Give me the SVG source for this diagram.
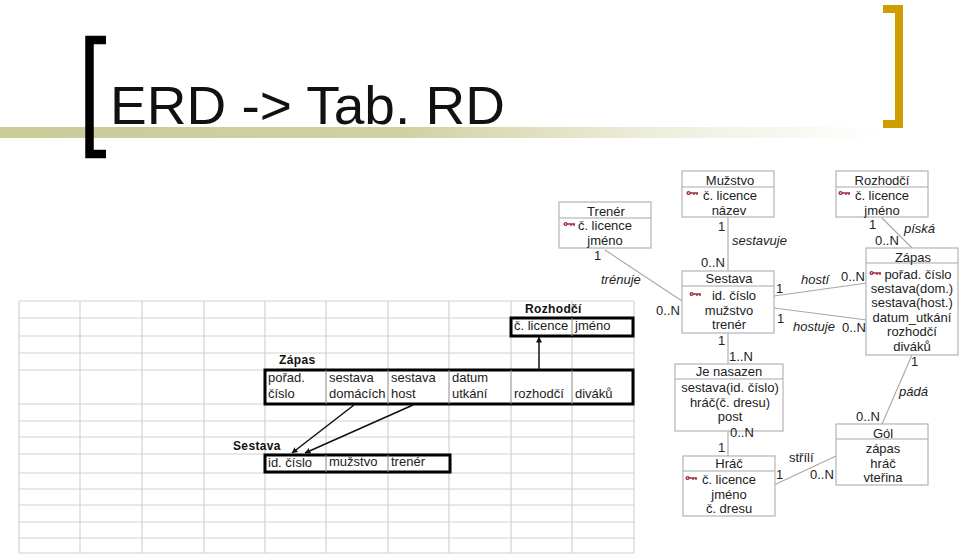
<svg xmlns="http://www.w3.org/2000/svg" width="960" height="556" viewBox="0 0 960 556">
<style>
text{font-family:"Liberation Sans",Arial,sans-serif;font-size:13px;fill:#222}
.c{text-anchor:middle}
.i{font-style:italic}
.b{font-weight:bold;font-size:12px;letter-spacing:.35px;fill:#111}
.g{stroke:#d2d2d2;stroke-width:1.2;fill:none}
.v{stroke:#8a8a8a;stroke-width:1;fill:none}
.box{fill:#fff;stroke:#b4b4b4;stroke-width:1.2}
.ln{stroke:#a8a8a8;stroke-width:1.1;fill:none}
.t{fill:#fff;stroke:#000;stroke-width:3}
.a{stroke:#111;stroke-width:1.5;fill:none;marker-end:url(#ah)}
.k{stroke:#a02c40;stroke-width:1.4;fill:none}
</style>
<defs>
<marker id="ah" viewBox="0 0 6 6" refX="5.5" refY="3" markerWidth="6" markerHeight="6" markerUnits="userSpaceOnUse" orient="auto"><path d="M0 0L6 3L0 6Z" fill="#111"/></marker>
<linearGradient id="band" x1="0" x2="1" y1="0" y2="0"><stop offset="0" stop-color="#cbcb98"/><stop offset=".45" stop-color="#d0d0a2"/><stop offset=".75" stop-color="#eeeedd"/><stop offset="1" stop-color="#fff"/></linearGradient>
<g id="key"><circle cx="1.6" cy="0" r="1.4" class="k"/><path d="M3 0H11M7 0V2M10 0V2" class="k"/></g>
</defs>
<g id="title">
<rect x="0" y="127" width="880" height="11" fill="url(#band)"/>
<path d="M106 40H89.500V154H106" fill="none" stroke="#000" stroke-width="8.500"/>
<path d="M883 9H899V124H883" fill="none" stroke="#cf9d00" stroke-width="8"/>
<text x="110" y="124" textLength="395" lengthAdjust="spacingAndGlyphs" style="font-size:54px;fill:#111">ERD -&gt; Tab. RD</text>
</g>
<g id="grid" class="g">
<path d="M19 301H634M19 318H634M19 336H634M19 353H634M19 370H634M19 404H634M19 421H634M19 437H634M19 454H634M19 473H634M19 489H634M19 505H634M19 522H634M19 538H634M19 553H634"/>
<path d="M19 301V553M80 301V553M142 301V553M204 301V553M265 301V553M326 301V553M388 301V553M449 301V553M511 301V553M572 301V553M634 301V553"/>
</g>
<g id="table-rozhodci">
<text x="525" y="313" class="b">Rozhodčí</text>
<rect x="511" y="318" width="122" height="18" class="t"/>
<path d="M572 318V336" class="v"/>
<text x="514" y="330">č. licence</text><text x="575" y="330">jméno</text>
</g>
<g id="table-zapas">
<text x="279" y="364" class="b">Zápas</text>
<rect x="265" y="370" width="368" height="34" class="t"/>
<path d="M326 370V404M388 370V404M449 370V404M511 370V404M572 370V404" class="v"/>
<text x="268" y="382">pořad.</text><text x="268" y="398">číslo</text>
<text x="329" y="382">sestava</text><text x="329" y="398">domácích</text>
<text x="391" y="382">sestava</text><text x="391" y="398">host</text>
<text x="452" y="382">datum</text><text x="452" y="398">utkání</text>
<text x="514" y="398">rozhodčí</text><text x="575" y="398">diváků</text>
</g>
<g id="table-sestava">
<text x="233" y="450" class="b">Sestava</text>
<rect x="265" y="455" width="185" height="17" class="t"/>
<path d="M326 455V472M388 455V472" class="v"/>
<text x="268" y="467">id. číslo</text><text x="329" y="466">mužstvo</text><text x="391" y="466">trenér</text>
</g>
<g id="connectors">
<path d="M539 369V337" class="a"/>
<path d="M354 405L292 453" class="a"/>
<path d="M413 405L305 453" class="a"/>
<path d="M605 250L682 301" class="ln"/>
<path d="M728 217V271" class="ln"/>
<path d="M728 333V364" class="ln"/>
<path d="M728 431V456" class="ln"/>
<path d="M774 296L867 283" class="ln"/>
<path d="M774 308L867 320" class="ln"/>
<path d="M882 218L912 248" class="ln"/>
<path d="M912 355L882 424" class="ln"/>
<path d="M774 485L836 456" class="ln"/>
</g>
<g id="trener">
<rect x="559" y="202" width="92" height="46" class="box"/><path d="M559 218H651" class="ln"/>
<use href="#key" x="564" y="224"/>
<text x="606" y="216" class="c">Trenér</text><text x="605" y="230" class="c">č. licence</text><text x="605" y="245" class="c">jméno</text>
</g>
<g id="muzstvo">
<rect x="682" y="171" width="92" height="46" class="box"/><path d="M682 187H774" class="ln"/>
<use href="#key" x="687" y="193"/>
<text x="730" y="185" class="c">Mužstvo</text><text x="730" y="200" class="c">č. licence</text><text x="729" y="215" class="c">název</text>
</g>
<g id="sestava">
<rect x="682" y="271" width="92" height="62" class="box"/><path d="M682 286H774" class="ln"/>
<use href="#key" x="690" y="294"/>
<text x="729" y="283" class="c">Sestava</text><text x="734" y="300" class="c">id. číslo</text><text x="729" y="315" class="c">mužstvo</text><text x="729" y="329" class="c">trenér</text>
</g>
<g id="je-nasazen">
<rect x="675" y="364" width="108" height="67" class="box"/><path d="M675 379H783" class="ln"/>
<text x="729" y="376" class="c">Je nasazen</text><text x="730" y="392" class="c">sestava(id. číslo)</text><text x="730" y="407" class="c">hráč(č. dresu)</text><text x="730" y="421" class="c">post</text>
</g>
<g id="hrac">
<rect x="683" y="456" width="92" height="60" class="box"/><path d="M683 471H775" class="ln"/>
<use href="#key" x="686" y="478"/>
<text x="729" y="468" class="c">Hráč</text><text x="729" y="484" class="c">č. licence</text><text x="729" y="499" class="c">jméno</text><text x="729" y="513" class="c">č. dresu</text>
</g>
<g id="rozhodci">
<rect x="836" y="171" width="92" height="46" class="box"/><path d="M836 187H928" class="ln"/>
<use href="#key" x="839" y="193"/>
<text x="882" y="185" class="c">Rozhodčí</text><text x="882" y="200" class="c">č. licence</text><text x="882" y="215" class="c">jméno</text>
</g>
<g id="zapas">
<rect x="866" y="248" width="92" height="107" class="box"/><path d="M866 263H958" class="ln"/>
<use href="#key" x="870" y="273"/>
<text x="913" y="262" class="c">Zápas</text><text x="918" y="279" class="c">pořad. číslo</text><text x="912" y="293" class="c">sestava(dom.)</text><text x="912" y="307" class="c">sestava(host.)</text><text x="912" y="322" class="c">datum_utkání</text><text x="912" y="336" class="c">rozhodčí</text><text x="912" y="351" class="c">diváků</text>
</g>
<g id="gol">
<rect x="836" y="424" width="92" height="61" class="box"/><path d="M836 439H928" class="ln"/>
<text x="883" y="438" class="c">Gól</text><text x="883" y="453" class="c">zápas</text><text x="883" y="468" class="c">hráč</text><text x="883" y="482" class="c">vteřina</text>
</g>
<g id="labels">
<text x="594" y="260">1</text><text x="601" y="284" class="i">trénuje</text>
<text x="656" y="315">0..N</text>
<text x="718" y="231">1</text><text x="732" y="245" class="i">sestavuje</text>
<text x="701" y="267">0..N</text>
<text x="776" y="293">1</text><text x="777" y="323">1</text>
<text x="801" y="284" class="i">hostí</text><text x="793" y="331" class="i">hostuje</text>
<text x="841" y="281">0..N</text><text x="842" y="332">0..N</text>
<text x="718" y="345">1</text><text x="729" y="361">1..N</text>
<text x="730" y="437">0..N</text><text x="718" y="452">1</text>
<text x="789" y="462">střílí</text>
<text x="776" y="479">1</text><text x="810" y="479">0..N</text>
<text x="869" y="229">1</text><text x="904" y="233" class="i">píská</text><text x="875" y="245">0..N</text>
<text x="911" y="366">1</text><text x="899" y="396" class="i">pádá</text><text x="856" y="421">0..N</text>
</g>
</svg>
